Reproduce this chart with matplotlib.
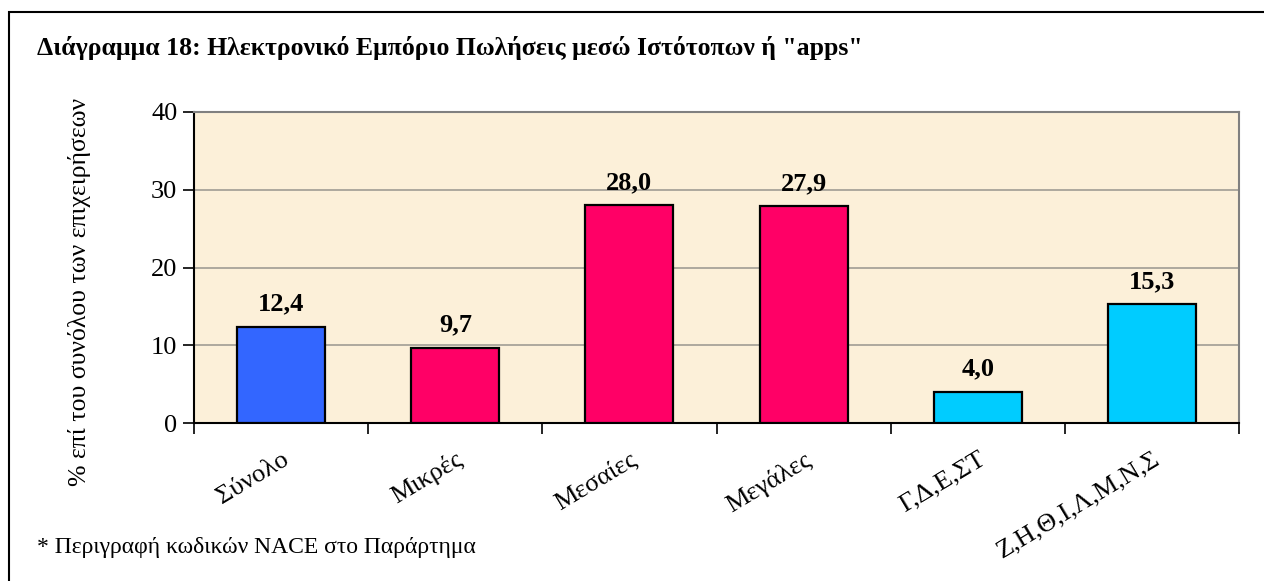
import matplotlib
matplotlib.use("Agg")
import matplotlib.pyplot as plt
from matplotlib.patches import Rectangle
import numpy as np

categories = ["Σύνολο", "Μικρές", "Μεσαίες", "Μεγάλες", "Γ,Δ,Ε,ΣΤ", "Ζ,Η,Θ,Ι,Λ,Μ,Ν,Σ"]
values = [12.4, 9.7, 28.0, 27.9, 4.0, 15.3]
value_labels = ["12,4", "9,7", "28,0", "27,9", "4,0", "15,3"]
bar_colors = ["#3366FF", "#FF0066", "#FF0066", "#FF0066", "#00CCFF", "#00CCFF"]
y_ticks = [0, 10, 20, 30, 40]

plt.rcParams["font.family"] = ["Liberation Serif", "DejaVu Serif"]

fig = plt.figure(figsize=(12.64, 5.81), dpi=100)
ax = fig.add_axes([194 / 1264, 1 - 423 / 581, (1239 - 194) / 1264, (423 - 112) / 581])

# outer frame of the chart area (only left/top visible in the original)
fig.patches.append(Rectangle((8.5 / 1264, -0.1), 1.2, 1 - 12 / 581 + 0.1,
                             transform=fig.transFigure, fill=False,
                             edgecolor="black", lw=1.5))

x = np.arange(len(categories))
ax.set_facecolor("#FCF0D9")
ax.bar(x, values, width=0.505, color=bar_colors, edgecolor="black", lw=1.6, zorder=3)
for xi, v, lab in zip(x, values, value_labels):
    ax.annotate(lab, (xi, v), xytext=(0, 8), textcoords="offset points",
                ha="center", va="bottom", fontsize=19, fontweight="bold")

ax.set_xlim(-0.5, len(categories) - 0.5)
ax.set_ylim(0, 40)
ax.set_yticks(y_ticks)
ax.tick_params(axis="y", labelsize=19, length=8, width=1.2, color="black", pad=4)
ax.yaxis.grid(True, color="#A09C94", lw=1.2, zorder=0)
ax.set_axisbelow(True)

ax.set_xticks(np.arange(len(categories) + 1) - 0.5, minor=False)
ax.set_xticklabels([])
ax.tick_params(axis="x", length=8, width=1.2, color="black")
ax.set_xticks(x, minor=True)
ax.set_xticklabels(categories, minor=True, rotation=31, ha="right", va="top",
                   rotation_mode="anchor", fontsize=19)
ax.tick_params(axis="x", which="minor", length=0, pad=18)

for s in ["left", "bottom"]:
    ax.spines[s].set_color("black")
    ax.spines[s].set_linewidth(1.5)
for s in ["top", "right"]:
    ax.spines[s].set_color("#808080")
    ax.spines[s].set_linewidth(1.5)

fig.text(80 / 1264, 1 - 292 / 581, "% επί του συνόλου των επιχειρήσεων",
         rotation=90, ha="center", va="center", fontsize=18.5)
fig.text(37 / 1264, 1 - 48 / 581,
         "Διάγραμμα 18: Ηλεκτρονικό Εμπόριο Πωλήσεις μεσώ Ιστότοπων ή \"apps\"",
         ha="left", va="center", fontsize=18.5, fontweight="bold")
fig.text(37 / 1264, 1 - 548 / 581, "* Περιγραφή κωδικών NACE στο Παράρτημα",
         ha="left", va="center", fontsize=17)

fig.savefig("out.png", dpi=100)
